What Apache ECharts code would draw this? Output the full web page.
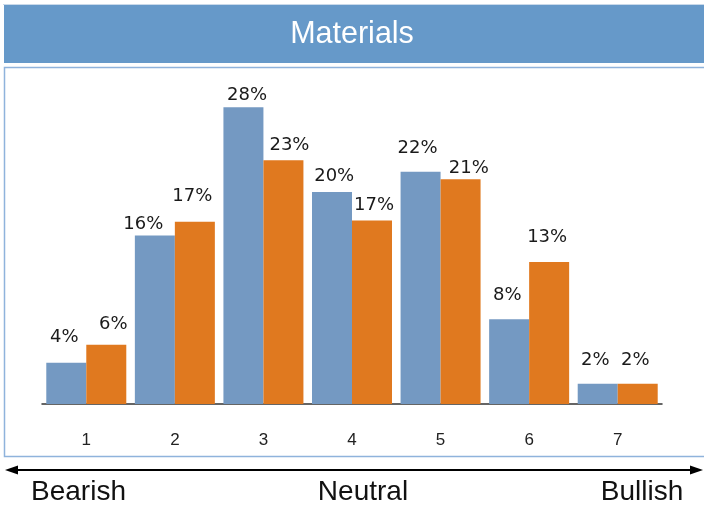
<!DOCTYPE html>
<html>
<head>
<meta charset="utf-8">
<script src="https://cdn.jsdelivr.net/npm/echarts@6/dist/echarts.min.js"></script>
<style>
html,body{margin:0;padding:0;background:#fff;}
#chart{width:704px;height:508px;}
</style>
</head>
<body>
<div id="chart"></div>
<script>
var categories = ['1', '2', '3', '4', '5', '6', '7'];
var seriesBlue = [3.9, 15.9, 28.0, 20.0, 21.9, 8.0, 1.9];
var seriesOrange = [5.6, 17.2, 23.0, 17.3, 21.2, 13.4, 1.9];
var scaleLabels = ['Bearish', 'Neutral', 'Bullish'];
var titleText = 'Materials';

// label placement nudges (layout only, px)
var nudgeBlue = [[-2, -16], [-11.5, -2], [3.7, -3.2], [2.2, -6.2], [-3, -14.7], [-1.8, -14.5], [-2.5, -14.5]];
var nudgeOrange = [[7, -11.5], [-2.5, -16.5], [6, -5.8], [2, -5.9], [8.3, -1.8], [-2, -16], [-2.5, -14.5]];

function buildItems(values, nudges) {
  return values.map(function (v, i) {
    return { value: v, label: { offset: nudges[i] } };
  });
}

var chart = echarts.init(document.getElementById('chart'), null, {renderer: 'canvas'});

var labelStyle = {
  show: true,
  position: 'top',
  distance: 0,
  fontFamily: 'DejaVu Sans',
  fontSize: 18,
  lineHeight: 18,
  color: '#1a1a1a',
  formatter: function (p) { return Math.round(p.value) + '%'; }
};

var option = {
  animation: false,
  backgroundColor: '#ffffff',
  title: {
    text: titleText,
    left: 'center',
    top: 14,
    textStyle: {
      fontFamily: 'Liberation Sans',
      fontWeight: 'normal',
      fontSize: 30.5,
      color: '#ffffff'
    }
  },
  grid: { left: 42, right: 42, top: 86, bottom: 104 },
  xAxis: {
    type: 'category',
    data: categories,
    axisLine: { lineStyle: { color: '#333333', width: 1.5 } },
    axisTick: { show: false },
    axisLabel: {
      margin: 28,
      fontFamily: 'Liberation Sans',
      fontSize: 17,
      color: '#222222'
    }
  },
  yAxis: {
    type: 'value',
    min: 0,
    max: 30,
    show: false,
    splitLine: { show: false }
  },
  series: [
    {
      type: 'bar',
      data: buildItems(seriesBlue, nudgeBlue),
      barWidth: 40,
      barGap: '0%',
      itemStyle: { color: '#7499c2' },
      label: labelStyle
    },
    {
      type: 'bar',
      data: buildItems(seriesOrange, nudgeOrange),
      barWidth: 40,
      barGap: '0%',
      itemStyle: { color: '#e0791f' },
      label: labelStyle
    }
  ],
  graphic: [
    { type: 'rect', z: -10, silent: true, shape: { x: 3, y: 4, width: 710, height: 1 }, style: { fill: '#c9d9ea' } },
    { type: 'rect', z: -9, silent: true, shape: { x: 4, y: 5, width: 710, height: 58 }, style: { fill: '#6699c9' } },
    { type: 'rect', z: -9, silent: true, shape: { x: 4.5, y: 67.5, width: 720, height: 389 }, style: { fill: 'none', stroke: '#8fb3dc', lineWidth: 1.5 } },
    { type: 'line', silent: true, shape: { x1: 12, y1: 470, x2: 696, y2: 470 }, style: { stroke: '#000000', lineWidth: 1.8 } },
    { type: 'polygon', silent: true, shape: { points: [[5, 470], [18, 465.5], [18, 474.5]] }, style: { fill: '#000000' } },
    { type: 'polygon', silent: true, shape: { points: [[703, 470], [690, 465.5], [690, 474.5]] }, style: { fill: '#000000' } },
    { type: 'text', silent: true, style: { text: scaleLabels[0], x: 78.5, y: 492, align: 'center', verticalAlign: 'middle', font: '28px "Liberation Sans"', fill: '#111111' } },
    { type: 'text', silent: true, style: { text: scaleLabels[1], x: 363, y: 492, align: 'center', verticalAlign: 'middle', font: '28px "Liberation Sans"', fill: '#111111' } },
    { type: 'text', silent: true, style: { text: scaleLabels[2], x: 642, y: 492, align: 'center', verticalAlign: 'middle', font: '28px "Liberation Sans"', fill: '#111111' } }
  ]
};

chart.setOption(option);
</script>
</body>
</html>
